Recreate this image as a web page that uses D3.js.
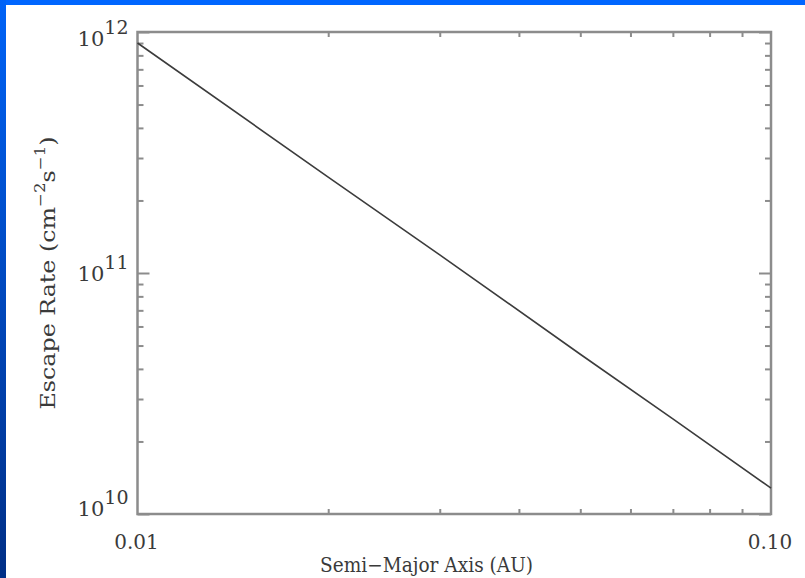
<!DOCTYPE html>
<html lang="en">
<head>
  <meta charset="UTF-8">
  <title>Escape Rate vs Semi-Major Axis</title>
  <script src="https://d3js.org/d3.v7.min.js"></script>
  <style>
    body { margin: 0; background: #fff; }
    text { font-family: "DejaVu Serif", serif; fill: #3a3a3a; }
  </style>
</head>
<body>
  <svg width="805" height="578"></svg>

  <script>
    // values (AU, cm^-2 s^-1)
    var semiMajorAxis = [0.01, 0.02, 0.03, 0.05, 0.07, 0.10];
    var escapeRate = [9.0e11, 2.5e11, 1.19e11, 4.6e10, 2.48e10, 1.28e10];

    var xTickLabels = ["0.01", "0.10"];
    var xTickValues = [0.01, 0.1];
    var yDecades = [10, 11, 12];

    var svg = d3.select("svg");

    // slide frame: blue band on top, gradient on the left
    var defs = svg.append("defs");
    var grad = defs.append("linearGradient")
        .attr("id", "leftband")
        .attr("x1", 0).attr("y1", 0).attr("x2", 0).attr("y2", 1);
    grad.append("stop").attr("offset", "0%").attr("stop-color", "#0063f7");
    grad.append("stop").attr("offset", "100%").attr("stop-color", "#002f86");

    svg.append("rect").attr("x", 0).attr("y", 0).attr("width", 805).attr("height", 5)
        .attr("fill", "#0066ff");
    svg.append("rect").attr("x", 0).attr("y", 0).attr("width", 6).attr("height", 578)
        .attr("fill", "url(#leftband)");

    // plot box edges (window.top is reserved, so pl* names)
    var plLeft = 137.5, plRight = 771, plTop = 32, plBottom = 514;

    var x = d3.scaleLog().domain([0.01, 0.1]).range([plLeft, plRight]);
    var y = d3.scaleLog().domain([1e10, 1e12]).range([plBottom, plTop]);

    var axisColor = "#8c8c8c";

    function styleAxis(g) {
      g.select(".domain").remove();
      g.selectAll(".tick line").attr("stroke", axisColor).attr("stroke-width", 2);
      g.selectAll(".tick text").remove();
    }

    var xMinor = x.ticks().filter(d => xTickValues.indexOf(d) < 0);
    var yAll = y.ticks();
    var yMajor = yAll.filter(d => Math.abs(Math.log10(d) - Math.round(Math.log10(d))) < 1e-9);
    var yMinor = yAll.filter(d => yMajor.indexOf(d) < 0);

    // x minor ticks, bottom and top, pointing inward
    svg.append("g").attr("transform", "translate(0," + plBottom + ")")
        .call(d3.axisBottom(x).tickValues(xMinor).tickSize(-5).tickFormat(""))
        .call(styleAxis);
    svg.append("g").attr("transform", "translate(0," + plTop + ")")
        .call(d3.axisTop(x).tickValues(xMinor).tickSize(-5).tickFormat(""))
        .call(styleAxis);

    // y ticks left and right
    svg.append("g").attr("transform", "translate(" + plLeft + ",0)")
        .call(d3.axisLeft(y).tickValues(yMinor).tickSize(-6).tickFormat(""))
        .call(styleAxis);
    svg.append("g").attr("transform", "translate(" + plLeft + ",0)")
        .call(d3.axisLeft(y).tickValues(yMajor).tickSize(-12).tickFormat(""))
        .call(styleAxis);
    svg.append("g").attr("transform", "translate(" + plRight + ",0)")
        .call(d3.axisRight(y).tickValues(yMinor).tickSize(-6).tickFormat(""))
        .call(styleAxis);
    svg.append("g").attr("transform", "translate(" + plRight + ",0)")
        .call(d3.axisRight(y).tickValues(yMajor).tickSize(-12).tickFormat(""))
        .call(styleAxis);

    // plot box
    svg.append("rect")
        .attr("x", plLeft).attr("y", plTop)
        .attr("width", plRight - plLeft).attr("height", plBottom - plTop)
        .attr("fill", "none")
        .attr("stroke", axisColor)
        .attr("stroke-width", 2.5);

    // data line
    var line = d3.line()
        .x((d, i) => x(semiMajorAxis[i]))
        .y(d => y(d));

    svg.append("path")
        .datum(escapeRate)
        .attr("d", line)
        .attr("fill", "none")
        .attr("stroke", "#3c3c3c")
        .attr("stroke-width", 1.6);

    // x tick labels
    svg.selectAll(".xlab")
        .data(xTickValues)
        .enter().append("text")
        .attr("class", "xlab")
        .attr("x", d => x(d) - 1)
        .attr("y", 549)
        .attr("text-anchor", "middle")
        .attr("font-size", 20)
        .text((d, i) => xTickLabels[i]);

    // y tick labels 10^n
    var ylab = svg.selectAll(".ylab")
        .data(yDecades)
        .enter().append("text")
        .attr("class", "ylab")
        .attr("x", plLeft - 9)
        .attr("y", d => y(Math.pow(10, d)) + 8 + 6 * (d - 11))
        .attr("text-anchor", "end")
        .attr("font-size", 21);
    ylab.append("tspan").text("10");
    ylab.append("tspan").attr("dy", -12).attr("font-size", 19).text(d => d);

    // axis titles
    svg.append("text")
        .attr("x", 320)
        .attr("y", 572)
        .attr("font-size", 20)
        .attr("textLength", 213)
        .attr("lengthAdjust", "spacingAndGlyphs")
        .text("Semi\u2212Major Axis (AU)");

    var yt = svg.append("text")
        .attr("transform", "translate(55,273) rotate(-90)")
        .attr("text-anchor", "middle")
        .attr("font-size", 20)
        .attr("textLength", 273)
        .attr("lengthAdjust", "spacingAndGlyphs");
    yt.append("tspan").text("Escape Rate (cm");
    yt.append("tspan").attr("dy", -10).attr("font-size", 14).text("\u22122");
    yt.append("tspan").attr("dy", 10).text("s");
    yt.append("tspan").attr("dy", -10).attr("font-size", 14).text("\u22121");
    yt.append("tspan").attr("dy", 10).text(")");
  </script>
</body>
</html>
